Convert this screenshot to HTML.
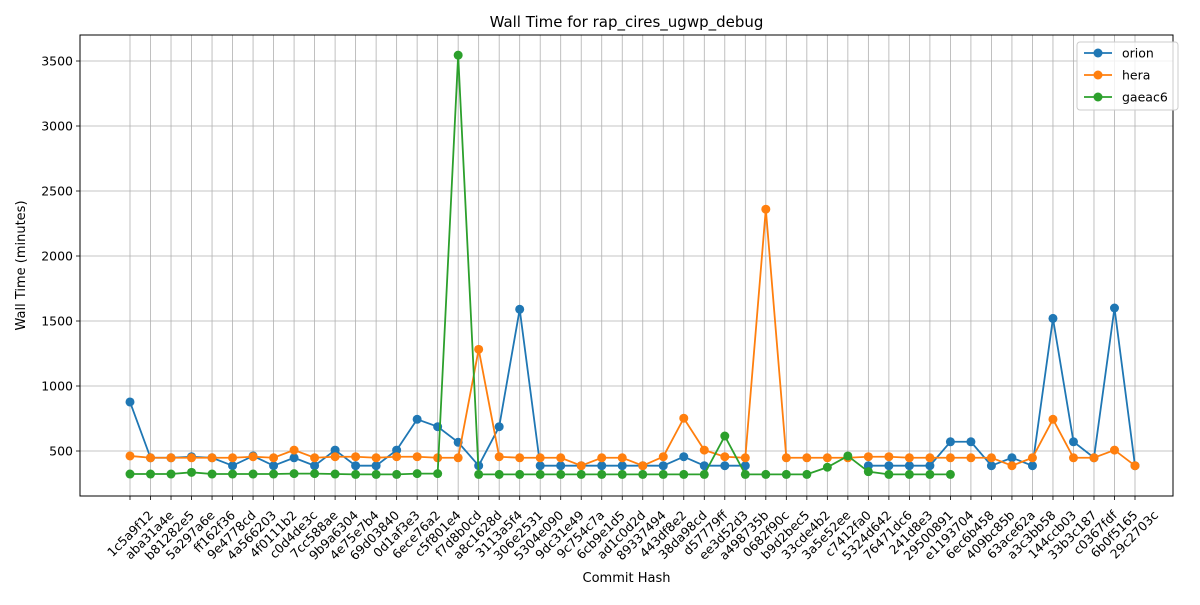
<!DOCTYPE html>
<html><head><meta charset="utf-8"><style>
body{margin:0;background:#fff;}
svg{font-family:"DejaVu Sans","Liberation Sans",sans-serif;}
</style></head><body>
<svg id="chart" width="1200" height="600" xmlns="http://www.w3.org/2000/svg"></svg>
<script>
const categories=["1c5a9f12","aba31a4e","b81282e5","5a297a6e","ff162f36","9e4778cd","4a566203","4f0111b2","c0d4de3c","7cc588ae","9b9a6304","4e75e7b4","69d03840","0d1af3e3","6ece76a2","c5f801e4","f7d8b0cd","a8c1628d","3113a5f4","306e2531","5304e090","9dc31e49","9c754c7a","6cb9e1d5","ad1c0d2d","89337494","443df8e2","38da98cd","d57779ff","ee3d52d3","a498735b","0682f90c","b9d2bec5","33cde4b2","3a5e52ee","c7412fa0","5324d642","76471dc6","241d8e3","29500891","e1193704","6ec6b458","409bc85b","63ace62a","a3c3bb58","144ccb03","33b3c187","c0367fdf","6b0f5165","29c2703c"];
const orion=[877,448,448,456,448,387,462,387,448,387,507,387,387,507,744,687,567,387,687,1590,387,387,387,387,387,387,387,456,387,387,387,null,null,null,null,null,387,387,387,387,571,571,387,448,387,1520,571,448,1600,387];
const hera=[462,448,448,448,448,448,456,448,507,448,456,456,448,456,456,448,448,1282,456,448,448,448,387,448,448,387,456,752,507,456,448,2360,448,448,448,448,456,456,448,448,448,448,448,387,448,744,448,448,507,387];
const gaeac6=[323,323,323,336,323,323,323,323,326,326,323,320,320,320,326,326,3545,320,320,320,320,320,320,320,320,320,320,320,320,615,320,320,320,320,375,462,341,320,320,320,320];
const yTicks=[500,1000,1500,2000,2500,3000,3500];
const seriesNames=["orion","hera","gaeac6"];
const seriesColors=["#1f77b4","#ff7f0e","#2ca02c"];

const svg=document.getElementById('chart');
const NS="http://www.w3.org/2000/svg";
const L=80,R=1173,T=35,B=496;
function xs(i){return 130+i*(1135-130)/(categories.length-1);}
function ys(v){return 451-(v-500)*0.13;}
function mk(tag,attrs,parent){const e=document.createElementNS(NS,tag);for(const k in attrs)e.setAttribute(k,attrs[k]);(parent||svg).appendChild(e);return e;}

const grid=mk('g',{});


categories.forEach((c,i)=>{
  const x=xs(i);
  mk('line',{x1:x,x2:x,y1:T,y2:B,stroke:'#b0b0b0','stroke-width':0.8},grid);
  mk('line',{x1:x,x2:x,y1:B,y2:B+4,stroke:'#000','stroke-width':0.8});
  const t=mk('text',{x:0,y:0,'font-size':12.5,'text-anchor':'end',transform:`translate(${x+24},${B+20}) rotate(-45)`});
  
  
  t.textContent=c;
});
yTicks.forEach(v=>{
  const y=ys(v);
  mk('line',{x1:L,x2:R,y1:y,y2:y,stroke:'#b0b0b0','stroke-width':0.8},grid);
  mk('line',{x1:L-4,x2:L,y1:y,y2:y,stroke:'#000','stroke-width':0.8});
  const t=mk('text',{x:L-7,y:y+4.5,'font-size':12.5,'text-anchor':'end'});
  
  
  t.textContent=v;
});

[orion,hera,gaeac6].forEach((data,si)=>{
  const g=mk('g',{});
  
  
  let d='',pen=false;
  data.forEach((v,i)=>{
    if(v==null){pen=false;return;}
    d+=(pen?'L':'M')+xs(i)+','+ys(v)+' ';pen=true;
  });
  mk('path',{d:d,fill:'none',stroke:seriesColors[si],'stroke-width':1.8},g);
  data.forEach((v,i)=>{
    if(v==null)return;
    const c=mk('circle',{cx:xs(i),cy:ys(v),r:4.5,fill:seriesColors[si]},g);
    
    
  });
});

const frame=mk('rect',{x:L,y:T,width:R-L,height:B-T,fill:'none',stroke:'#000','stroke-width':1});



const title=mk('text',{x:(L+R)/2,y:27,'font-size':15,'text-anchor':'middle'});


title.textContent='Wall Time for rap_cires_ugwp_debug';
const xt=mk('text',{x:(L+R)/2,y:582,'font-size':13,'text-anchor':'middle'});


xt.textContent='Commit Hash';
const yt=mk('text',{x:0,y:0,'font-size':13,'text-anchor':'middle',transform:`translate(25,${(T+B)/2}) rotate(-90)`});


yt.textContent='Wall Time (minutes)';

const lg=mk('g',{});


mk('rect',{x:1077,y:42,width:101,height:68,rx:3,fill:'#fff','fill-opacity':0.8,stroke:'#ccc'},lg);
seriesNames.forEach((n,i)=>{
  const y=53+i*22;
  const e=mk('g',{},lg);
  
  
  mk('line',{x1:1084,x2:1112,y1:y,y2:y,stroke:seriesColors[i],'stroke-width':1.8},e);
  mk('circle',{cx:1098,cy:y,r:4.5,fill:seriesColors[i]},e);
  const t=mk('text',{x:1122,y:y+4.5,'font-size':12.5},e);
  t.textContent=n;
});
</script>
</body></html>
